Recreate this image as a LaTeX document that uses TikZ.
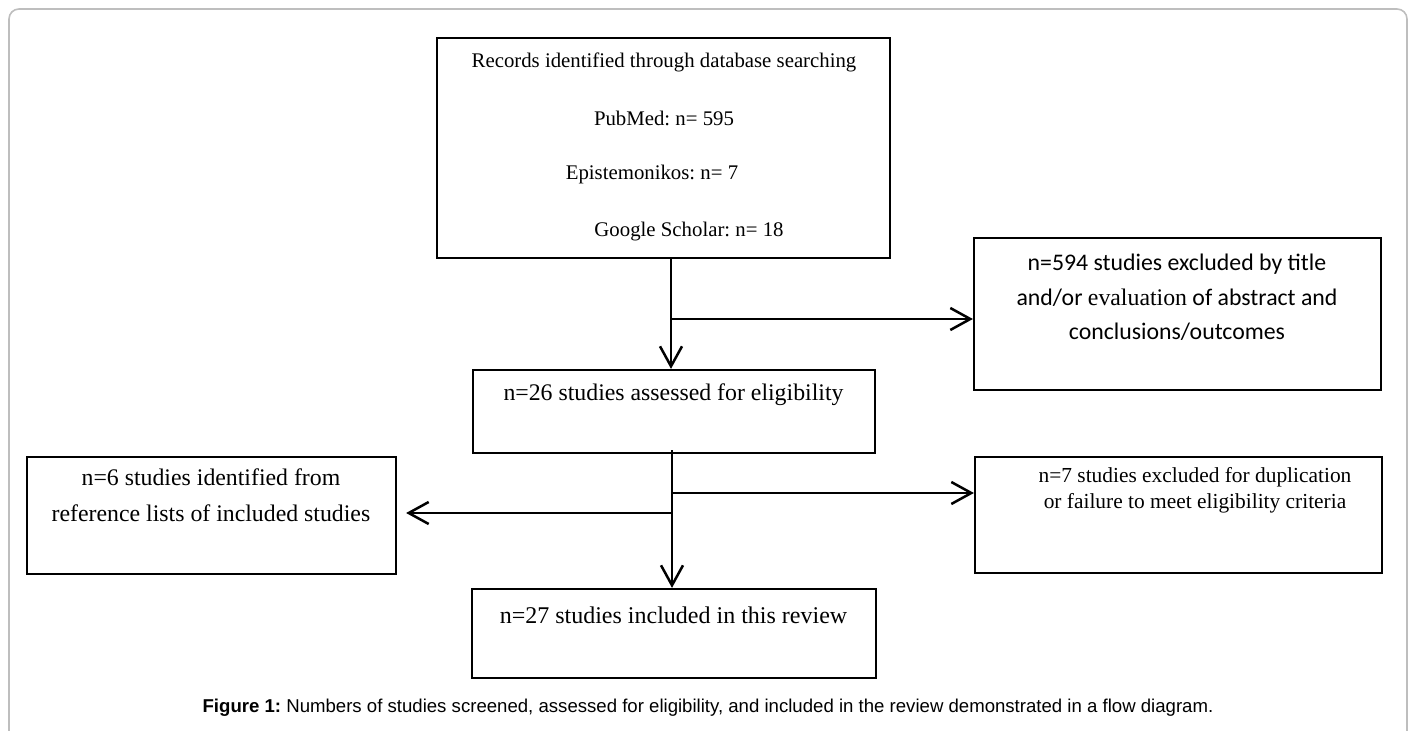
\documentclass[tikz,border=0pt]{standalone}
\usepackage{fontspec}
\setmainfont{Liberation Serif}
\newfontfamily\calibri{Carlito}
\newfontfamily\captionfont{Liberation Sans}
\usetikzlibrary{arrows.meta,calc}
\definecolor{FrameGray}{RGB}{190,190,190}
\frenchspacing
\tikzset{
  stage/.style={draw=black,line width=1.1pt,minimum width=#1,inner sep=0pt},
  flow/.style={-{Straight Barb[length=10pt,width=11pt]},line width=1.25pt,draw=black},
  boxtext/.style={inner sep=0pt,align=center,font=\fontsize{#1}{#1}\selectfont},
  frame/.style={draw=FrameGray,line width=0.8pt,rounded corners=5pt}
}

\begin{document}
\begin{tikzpicture}[x=0.5pt,y=-0.5pt]
\useasboundingbox (0,0) rectangle (1412,731);
\draw[frame] (9,731) -- (9,9) -- (1407,9) -- (1407,731);

% boxes
\node[stage=226.5pt,minimum height=110pt] (records) at (663.5,148) {};
\node[stage=203.5pt,minimum height=76pt] (titles) at (1177.5,314) {};
\node[stage=201pt,minimum height=41.5pt] (assessed) at (674,411.5) {};
\node[stage=184.5pt,minimum height=58.5pt] (reflists) at (211.5,515.5) {};
\node[stage=203.5pt,minimum height=58pt] (duplic) at (1178.5,515) {};
\node[stage=202pt,minimum height=44.5pt] (included) at (674,633.5) {};

% texts
\node[boxtext=10.4] (rec1) at (664,62) {Records identified through database searching};
\node[boxtext=10.4] (rec2) at (664,118) {PubMed: n= 595};
\node[boxtext=10.4] (rec3) at (652,175) {Epistemonikos: n= 7};
\node[boxtext=10.4] (rec4) at (689,232) {Google Scholar: n= 18};
\node[boxtext=11.9,font=\calibri\fontsize{11.9}{17.3}\selectfont] (titlestxt) at (1177,297.5)
  {n=594 studies excluded by title\\and/or {\rmfamily evaluation} of abstract and\\conclusions/outcomes};
\node[boxtext=11.9] (assessedtxt) at (673.5,395) {n=26 studies assessed for eligibility};
\node[boxtext=11.9,font=\fontsize{11.9}{18}\selectfont] (reflisttxt) at (211,495)
  {n=6 studies identified from\\reference lists of included studies};
\node[boxtext=10.7,font=\fontsize{10.7}{13}\selectfont] (duplictxt) at (1195,490)
  {n=7 studies excluded for duplication\\or failure to meet eligibility criteria};
\node[boxtext=12] (includedtxt) at (673.5,615) {n=27 studies included in this review};

% connectors
\coordinate (split1) at (671,319);
\coordinate (split2) at (672,493);
\coordinate (split3) at (672,513);
\draw[flow] (records.south -| split1) -- (split1 |- assessed.north);
\draw[flow] (split1) -- (split1 -| titles.west);
\draw[flow] ($(assessed.south -| split2)+(0,-4)$) -- (split2 |- included.north);
\draw[flow] (split2) -- (split2 -| duplic.west);
\draw[flow,shorten >=4.5pt] (split3) -- (split3 -| reflists.east);

\node[font=\captionfont\fontsize{9.3}{9.3}\selectfont,inner sep=0pt] (caption) at (708,708)
  {\textbf{Figure 1:} Numbers of studies screened, assessed for eligibility, and included in the review demonstrated in a flow diagram.};
\end{tikzpicture}
\end{document}
